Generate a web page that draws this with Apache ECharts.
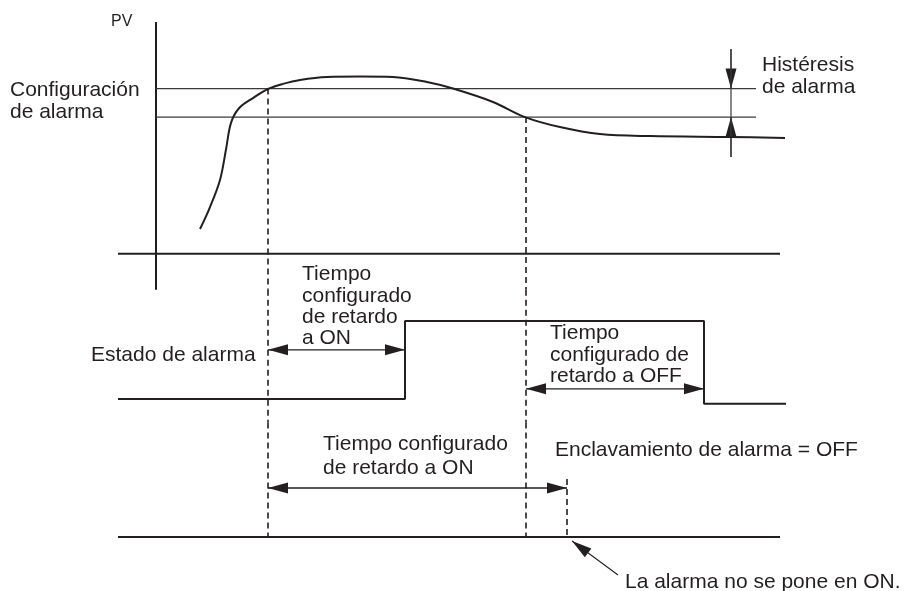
<!DOCTYPE html>
<html>
<head>
<meta charset="utf-8">
<script src="https://cdn.jsdelivr.net/npm/echarts@6.0.0/dist/echarts.min.js"></script>
<style>html,body{margin:0;padding:0;background:#fff}#c{width:908px;height:591px}</style>
</head>
<body>
<div id="c"></div>
<script>
// ---- shared time axis (arbitrary time units) ----
const timeMin = -4, timeMax = 64;
const axisStart = -3.8, axisEnd = 62.4;

// ---- PV panel ----
const pvTime  = [4.4, 5.4, 6.4, 7.0, 7.5, 8.3, 9.7, 11.2, 12.7, 14.4, 17.1, 20.4, 23.7, 27.1, 29.7, 33.7, 36.9, 40.4, 44.4, 49.4, 57.4, 62.9];
const pvValue = [10.7, 20.2, 31.9, 45.0, 56.5, 62.8, 67.2, 71.1, 73.3, 75.0, 76.3, 76.5, 76.3, 74.1, 71.3, 65.5, 59.0, 54.7, 51.7, 50.8, 50.4, 50.0];
const alarmSetpoint = 71.3;
const hysteresisLow = 59.0;
const setLineEnd = 60;
const hysteresisTime = 57.5;
const hysteresisSpan = [88.4, 41.8];
const pvAxisRange = [-15.5, 100];

// ---- Alarm state panel ----
const stateTime  = [-3.8, 24.9, 24.9, 54.8, 54.8, 63.0];
const stateValue = [0, 0, 1, 1, -0.06, -0.06];
const onDelayStart = 11.2, onDelayEnd = 24.9, onArrowLevel = 0.63;
const offDelayStart = 37.0, offDelayEnd = 54.8, offArrowLevel = 0.13;

// ---- Latch panel ----
const latchArrowLevel = 0.4276;
const latchDelayEnd = 41.1;
const latchDashTop = 0.506;
const leaderTail = [46.2, -0.332];
const leaderTip = [41.6, -0.035];

// ---- texts ----
const txtPV = 'PV';
const txtSetpoint = 'Configuración\nde alarma';
const txtHyst = 'Histéresis\nde alarma';
const txtOnDelay1 = 'Tiempo\nconfigurado\nde retardo\na ON';
const txtState = 'Estado de alarma';
const txtOffDelay = 'Tiempo\nconfigurado de\nretardo a OFF';
const txtOnDelay2 = 'Tiempo configurado\nde retardo a ON';
const txtLatch = 'Enclavamiento de alarma = OFF';
const txtNote = 'La alarma no se pone en ON.';

const INK = '#231f20';
const FONT = '"Liberation Sans", Arial, Helvetica, sans-serif';

function seg(grid, pts, width, color, dash) {
  return {
    type: 'line', xAxisIndex: grid, yAxisIndex: grid, data: pts,
    showSymbol: false, symbol: 'none', silent: true, clip: false,
    lineStyle: { width: width, color: color || INK, type: dash || 'solid', cap: 'butt' }
  };
}

function arrowSeries(grid, items, width) {
  return {
    type: 'custom', xAxisIndex: grid, yAxisIndex: grid, clip: false, silent: true,
    encode: { x: [0, 2], y: [1, 3] },
    data: items,
    renderItem: function (params, api) {
      const p1 = api.coord([api.value(0), api.value(1)]);
      const p2 = api.coord([api.value(2), api.value(3)]);
      const h1 = api.value(4), h2 = api.value(5);
      const L = 20, W = 5.5;
      const children = [{
        type: 'line', shape: { x1: p1[0], y1: p1[1], x2: p2[0], y2: p2[1] },
        style: { stroke: INK, lineWidth: width }
      }];
      function head(tip, from) {
        const dx = tip[0] - from[0], dy = tip[1] - from[1];
        const len = Math.sqrt(dx * dx + dy * dy) || 1;
        const ux = dx / len, uy = dy / len;
        const bx = tip[0] - ux * L, by = tip[1] - uy * L;
        const nx = -uy, ny = ux;
        return {
          type: 'polygon',
          shape: { points: [[tip[0], tip[1]], [bx + nx * W, by + ny * W], [bx - nx * W, by - ny * W]] },
          style: { fill: INK }
        };
      }
      if (h1) children.push(head(p1, p2));
      if (h2) children.push(head(p2, p1));
      return { type: 'group', children: children };
    }
  };
}

const pvData = pvTime.map((t, i) => [t, pvValue[i]]);
const stateData = stateTime.map((t, i) => [t, stateValue[i]]);
const DASH = [6, 4];

const grids = [
  { left: 116, right: 112, top: 22, height: 267.8 },
  { left: 116, right: 112, top: 289.8, height: 132.6 },
  { left: 116, right: 112, top: 422.4, height: 160.4 }
];
const yRanges = [pvAxisRange, [-0.3, 1.4], [-0.4, 1]];

const option = {
  animation: false,
  backgroundColor: '#fff',
  grid: grids,
  xAxis: grids.map((g, i) => ({ gridIndex: i, type: 'value', min: timeMin, max: timeMax, show: false })),
  yAxis: grids.map((g, i) => ({ gridIndex: i, type: 'value', min: yRanges[i][0], max: yRanges[i][1], show: false })),
  series: [
    // PV panel
    seg(0, [[0, pvAxisRange[0]], [0, pvAxisRange[1]]], 2),
    seg(0, [[axisStart, 0], [axisEnd, 0]], 2),
    seg(0, [[0, alarmSetpoint], [setLineEnd, alarmSetpoint]], 1.2, '#3a3a3a'),
    seg(0, [[0, hysteresisLow], [setLineEnd, hysteresisLow]], 1.2, '#3a3a3a'),
    seg(0, [[hysteresisTime, hysteresisSpan[0]], [hysteresisTime, hysteresisSpan[1]]], 1.2, '#3a3a3a'),
    {
      type: 'line', xAxisIndex: 0, yAxisIndex: 0, data: pvData, smooth: 0.35,
      showSymbol: false, symbol: 'none', silent: true, lineStyle: { width: 2, color: INK }
    },
    arrowSeries(0, [
      [hysteresisTime, hysteresisSpan[0], hysteresisTime, alarmSetpoint, 0, 1],
      [hysteresisTime, hysteresisSpan[1], hysteresisTime, hysteresisLow, 0, 1]
    ], 1.2),
    seg(0, [[onDelayStart, alarmSetpoint], [onDelayStart, pvAxisRange[0]]], 1.6, INK, DASH),
    seg(0, [[offDelayStart, hysteresisLow], [offDelayStart, pvAxisRange[0]]], 1.6, INK, DASH),
    // State panel
    seg(1, [[onDelayStart, 1.4], [onDelayStart, -0.3]], 1.6, INK, DASH),
    seg(1, [[offDelayStart, 1.4], [offDelayStart, -0.3]], 1.6, INK, DASH),
    {
      type: 'line', xAxisIndex: 1, yAxisIndex: 1, data: stateData,
      showSymbol: false, symbol: 'none', silent: true, lineStyle: { width: 2, color: INK }
    },
    arrowSeries(1, [
      [onDelayStart, onArrowLevel, onDelayEnd, onArrowLevel, 1, 1],
      [offDelayStart, offArrowLevel, offDelayEnd, offArrowLevel, 1, 1]
    ], 1.3),
    // Latch panel
    seg(2, [[onDelayStart, 1], [onDelayStart, 0]], 1.6, INK, DASH),
    seg(2, [[offDelayStart, 1], [offDelayStart, 0]], 1.6, INK, DASH),
    seg(2, [[latchDelayEnd, latchDashTop], [latchDelayEnd, 0]], 1.6, INK, DASH),
    seg(2, [[axisStart, 0], [axisEnd, 0]], 2),
    arrowSeries(2, [
      [onDelayStart, latchArrowLevel, latchDelayEnd, latchArrowLevel, 1, 1]
    ], 1.3),
    arrowSeries(2, [
      [leaderTail[0], leaderTail[1], leaderTip[0], leaderTip[1], 0, 1]
    ], 1.1)
  ],
  graphic: [
    { type: 'text', x: 111, y: 22, style: { text: txtPV, fontSize: 16, fontFamily: FONT, fill: INK, align: 'left', verticalAlign: 'middle' } },
    { type: 'text', x: 10, y: 101, style: { text: txtSetpoint, fontSize: 21, lineHeight: 21.6, fontFamily: FONT, fill: INK, align: 'left', verticalAlign: 'middle' } },
    { type: 'text', x: 762, y: 76.25, style: { text: txtHyst, fontSize: 21, lineHeight: 22.5, fontFamily: FONT, fill: INK, align: 'left', verticalAlign: 'middle' } },
    { type: 'text', x: 302, y: 306.5, style: { text: txtOnDelay1, fontSize: 21, lineHeight: 21.3, fontFamily: FONT, fill: INK, align: 'left', verticalAlign: 'middle' } },
    { type: 'text', x: 91, y: 355.5, style: { text: txtState, fontSize: 21, fontFamily: FONT, fill: INK, align: 'left', verticalAlign: 'middle' } },
    { type: 'text', x: 550, y: 355, style: { text: txtOffDelay, fontSize: 21, lineHeight: 21.3, fontFamily: FONT, fill: INK, align: 'left', verticalAlign: 'middle' } },
    { type: 'text', x: 323, y: 456, style: { text: txtOnDelay2, fontSize: 21, lineHeight: 24.3, fontFamily: FONT, fill: INK, align: 'left', verticalAlign: 'middle' } },
    { type: 'text', x: 555, y: 450, style: { text: txtLatch, fontSize: 21, fontFamily: FONT, fill: INK, align: 'left', verticalAlign: 'middle' } },
    { type: 'text', x: 625, y: 582, style: { text: txtNote, fontSize: 21, fontFamily: FONT, fill: INK, align: 'left', verticalAlign: 'middle' } }
  ]
};

const chart = echarts.init(document.getElementById('c'), null, { renderer: 'canvas' });
chart.setOption(option);
</script>
</body>
</html>
